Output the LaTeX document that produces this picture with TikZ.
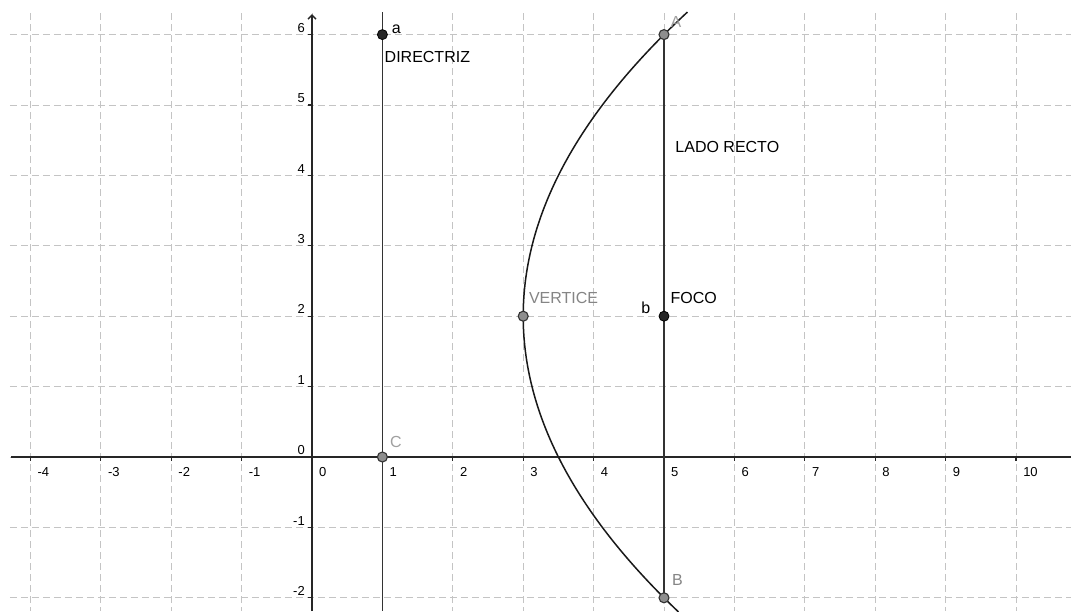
\documentclass[tikz,border=0pt]{standalone}
\usepackage{fontspec}
\setmainfont{Liberation Sans}
\usetikzlibrary{arrows.meta,calc}
\definecolor{gridc}{HTML}{C4C4C4}
\definecolor{ptgray}{HTML}{8E8E8E}
\definecolor{lblgray}{HTML}{858585}
\definecolor{lbllight}{HTML}{A0A0A0}
\begin{document}
\begin{tikzpicture}[x=70.4pt,y=70.4pt,
  gridline/.style={draw=gridc, line width=0.9pt, dash pattern=on 7pt off 4pt},
  axisline/.style={draw=black!85, line width=1.4pt},
  tickline/.style={draw=black!85, line width=1.1pt},
  mainline/.style={draw=black!80, line width=1.8pt},
  curveline/.style={draw=black!90, line width=1.5pt},
  ptblack/.style={circle, fill=black!85, draw=black, line width=0.8pt, inner sep=0pt, minimum size=10pt},
  ptgray/.style={circle, fill=ptgray, draw=black!80, line width=1.1pt, inner sep=0pt, minimum size=10pt},
  ticklbl/.style={inner sep=0pt, font=\fontsize{13}{15}\selectfont},
  txt/.style={inner sep=0pt, font=\fontsize{16}{19}\selectfont, anchor=west}]
\useasboundingbox (-4.4318,-2.1875) rectangle (10.7812,6.4915);
\fill[white] (-4.4318,-2.1875) rectangle (10.7812,6.4915);
% grid
\foreach \i in {-4,...,10} \draw[gridline] (\i,6.3) -- (\i,-2.1875);
\foreach \j in {-2,...,6} \draw[gridline] (-4.29,\j) -- (10.7812,\j);
% axes
\coordinate (xl) at (-4.27,0);
\coordinate (xr) at (10.7812,0);
\coordinate (yb) at (0,-2.1875);
\coordinate (yt) at (0,6.29);
\draw[axisline] (xl) -- (xr);
\draw[axisline, -{Straight Barb[length=4pt,width=8pt]}] (yb) -- (yt);
\foreach \i in {-4,...,10} {
  \draw[tickline] (\i,0) -- (\i,-0.06);
  \node[ticklbl, anchor=west] at (\i+0.1,-0.21) {\i};
}
\foreach \j in {-2,...,6} {
  \draw[tickline] (0,\j) -- (-0.06,\j);
  \node[ticklbl, anchor=south east] at (-0.1,\j+0.03) {\j};
}
% key points
\coordinate (a) at (1,6);
\coordinate (C) at (1,0);
\coordinate (V) at (3,2);
\coordinate (F) at (5,2);
\coordinate (A) at (5,6);
\coordinate (B) at (5,-2);
\coordinate (dt) at (1,6.32);
\coordinate (db) at (1,-2.1875);
% directrix and latus rectum
\draw[mainline] (dt) -- (db);
\draw[mainline] (A) -- (B);
% parabola (y-2)^2 = 8(x-3)
\draw[curveline] plot[domain=-2.2:6.32, samples=120, smooth] ({3+(\x-2)*(\x-2)/8},\x);
% points
\node[ptblack] (pa) at (a) {};
\node[ptgray] (pC) at (C) {};
\node[ptgray] (pV) at (V) {};
\node[ptblack] (pF) at (F) {};
\node[ptgray] (pA) at (A) {};
\node[ptgray] (pB) at (B) {};
% labels
\node[txt] (la) at (1.13,6.07) {a};
\node[txt] (ldir) at (1.03,5.68) {DIRECTRIZ};
\node[txt] (llr) at (5.16,4.40) {LADO RECTO};
\node[txt, text=lblgray] (lv) at (3.08,2.26) {VERTICE};
\node[txt] (lf) at (5.09,2.26) {FOCO};
\node[txt, anchor=center] (lb) at (4.74,2.12) {b};
\node[txt, anchor=center, text=lbllight] (lC) at (1.19,0.21) {C};
\node[txt, anchor=center, text=lbllight] (lA) at (5.17,6.18) {A};
\node[txt, anchor=center, text=lblgray] (lB) at (5.19,-1.75) {B};
\end{tikzpicture}
\end{document}
